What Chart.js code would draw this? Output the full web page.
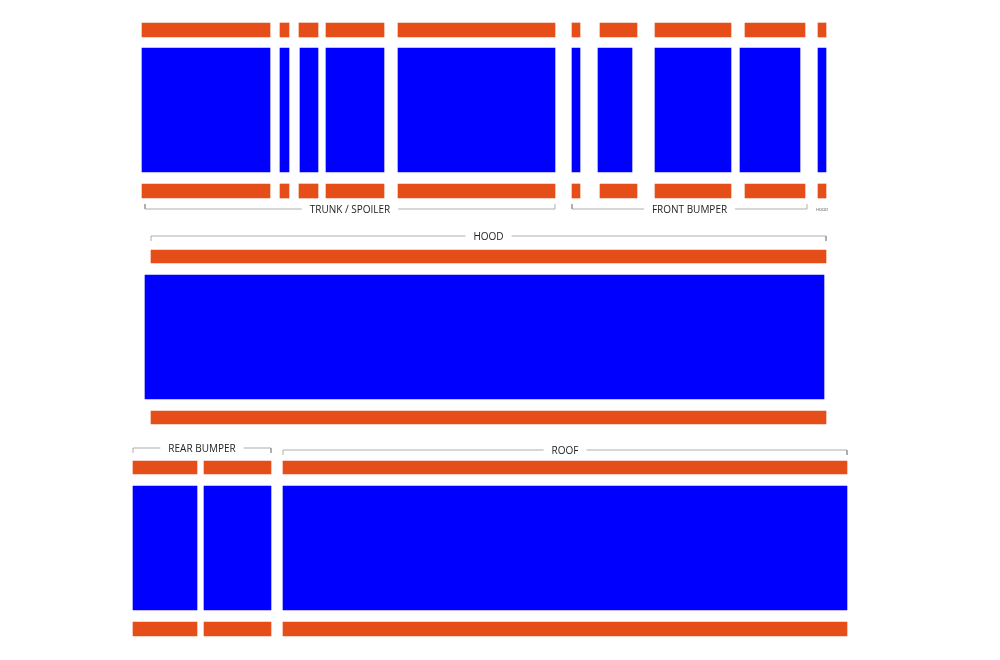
<!DOCTYPE html>
<html>
<head>
<meta charset="utf-8">
<script src="https://cdn.jsdelivr.net/npm/chart.js@4"></script>
<style>
  html, body { margin: 0; padding: 0; background: #fff; }
  #wrap { width: 1000px; height: 660px; position: relative; }
</style>
</head>
<body>
<div id="wrap"><canvas id="c"></canvas></div>
<script>
// stripe layout, in picture units (x across, y down)
const ORANGE = "#e64e19";
const BLUE = "#0000ff";
const GREY = "#9a9a9a";

// top section: trunk / spoiler + front bumper
const topBands = [[23, 37], [48, 172], [184, 198]];
const topOrange = [[142, 270], [280, 289], [299, 318], [326, 384], [398, 555], [572, 580], [600, 637], [655, 731], [745, 805], [818, 826]];
const topBlue = [[142, 270], [280, 289], [300, 318], [326, 384], [398, 555], [572, 580], [598, 632], [655, 731], [740, 800], [818, 826]];

// hood
const hoodBands = [[250, 263], [275, 399], [411, 424]];
const hoodOrange = [[151, 826]];
const hoodBlue = [[145, 824]];

// rear bumper + roof
const lowBands = [[461, 474], [486, 610], [622, 636]];
const lowPieces = [[133, 197], [204, 271], [283, 847]];

// brackets: [x0, x1, lineY, tickY, label]
const brackets = [
  [145, 555, 209, 204, "TRUNK / SPOILER"],
  [572, 807, 209, 204, "FRONT BUMPER"],
  [151, 826, 236, 241, "HOOD"],
  [133, 271, 448, 453, "REAR BUMPER"],
  [283, 847, 450, 455, "ROOF"],
];
const tinyLabel = [822, 210, "HOOD"];

function bandSets(bands, pieces, colors) {
  return bands.map((b, i) => ({
    type: "bar",
    indexAxis: "y",
    grouped: false,
    barThickness: b[1] - b[0],
    backgroundColor: colors[i],
    data: pieces[i].map((p) => ({ y: (b[0] + b[1]) / 2, x: p })),
  }));
}

const datasets = [
  ...bandSets(topBands, [topOrange, topBlue, topOrange], [ORANGE, BLUE, ORANGE]),
  ...bandSets(hoodBands, [hoodOrange, hoodBlue, hoodOrange], [ORANGE, BLUE, ORANGE]),
  ...bandSets(lowBands, [lowPieces, lowPieces, lowPieces], [ORANGE, BLUE, ORANGE]),
  ...brackets.map((b) => ({
    type: "scatter",
    showLine: true,
    borderColor: GREY,
    borderWidth: 0.8,
    pointRadius: 0,
    data: [{ x: b[0], y: b[3] }, { x: b[0], y: b[2] }, { x: b[1], y: b[2] }, { x: b[1], y: b[3] }],
  })),
];

const labelPlugin = {
  id: "labels",
  afterDatasetsDraw(chart) {
    const { ctx, scales } = chart;
    ctx.save();
    ctx.textAlign = "center";
    ctx.textBaseline = "middle";
    ctx.font = "10px 'Open Sans', sans-serif";
    brackets.forEach((b) => {
      const cx = scales.x.getPixelForValue((b[0] + b[1]) / 2);
      const cy = scales.y.getPixelForValue(b[2]);
      const w = ctx.measureText(b[4]).width + 16;
      ctx.fillStyle = "#fff";
      ctx.fillRect(cx - w / 2, cy - 3, w, 6);
      ctx.fillStyle = "#222";
      ctx.fillText(b[4], cx, cy + 1);
    });
    ctx.font = "4px 'Open Sans', sans-serif";
    ctx.fillStyle = "#444";
    ctx.fillText(tinyLabel[2], scales.x.getPixelForValue(tinyLabel[0]), scales.y.getPixelForValue(tinyLabel[1]));
    ctx.restore();
  },
};

new Chart(document.getElementById("c"), {
  data: { datasets },
  options: {
    responsive: true,
    maintainAspectRatio: false,
    animation: false,
    layout: { padding: 0 },
    plugins: { legend: { display: false }, tooltip: { enabled: false } },
    scales: {
      x: { type: "linear", min: 0, max: 1000, display: false, offset: false },
      y: { type: "linear", min: 0, max: 660, reverse: true, display: false, offset: false },
    },
  },
  plugins: [labelPlugin],
});
</script>
</body>
</html>
